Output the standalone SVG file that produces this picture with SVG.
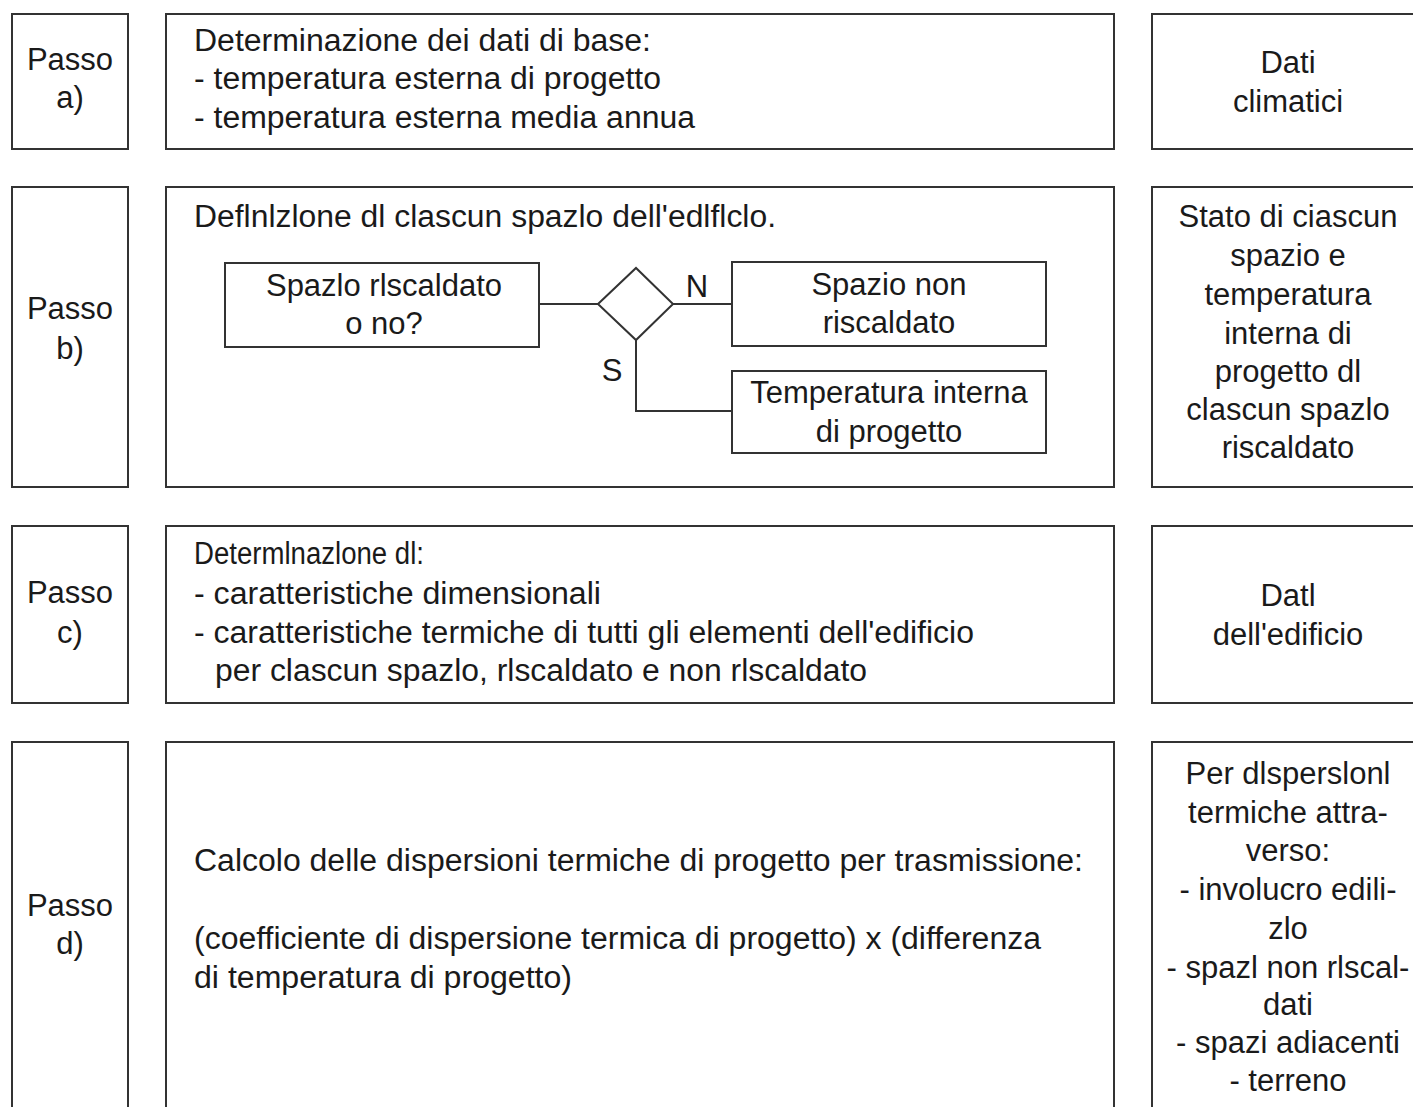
<svg xmlns="http://www.w3.org/2000/svg" width="1413" height="1107" viewBox="0 0 1413 1107">
<style>
rect.b{fill:#fff;stroke:#333;stroke-width:2}
text{font-family:"Liberation Sans",Arial,sans-serif;font-size:31px;fill:#1a1a1a}
.c{text-anchor:middle}
.ln{fill:none;stroke:#333;stroke-width:2}
</style>
<rect width="1413" height="1107" fill="#fff"/>
<g id="passo-a"><rect class="b" x="12" y="14" width="116" height="135"/><text class="c" x="70" y="70">Passo</text><text class="c" x="70" y="108">a)</text></g>
<g id="step-a"><rect class="b" x="166" y="14" width="948" height="135"/>
<text x="194" y="51" textLength="457" lengthAdjust="spacingAndGlyphs">Determinazione dei dati di base:</text>
<text x="194" y="89" textLength="467" lengthAdjust="spacingAndGlyphs">- temperatura esterna di progetto</text>
<text x="194" y="128" textLength="501" lengthAdjust="spacingAndGlyphs">- temperatura esterna media annua</text></g>
<g id="out-a"><rect class="b" x="1152" y="14" width="280" height="135"/><text class="c" x="1288" y="73">Dati</text><text class="c" x="1288" y="112">climatici</text></g>

<g id="passo-b"><rect class="b" x="12" y="187" width="116" height="300"/><text class="c" x="70" y="319">Passo</text><text class="c" x="70" y="359">b)</text></g>
<g id="step-b"><rect class="b" x="166" y="187" width="948" height="300"/>
<text x="194" y="227" textLength="582" lengthAdjust="spacingAndGlyphs">Deflnlzlone dl clascun spazlo dell'edlflclo.</text></g>
<g id="out-b"><rect class="b" x="1152" y="187" width="280" height="300"/>
<text class="c" x="1288" y="227">Stato di ciascun</text>
<text class="c" x="1288" y="266">spazio e</text>
<text class="c" x="1288" y="305">temperatura</text>
<text class="c" x="1288" y="344">interna di</text>
<text class="c" x="1288" y="382">progetto dl</text>
<text class="c" x="1288" y="420">clascun spazlo</text>
<text class="c" x="1288" y="458">riscaldato</text></g>

<g id="connectors">
<polyline class="ln" points="539,304 598,304"/>
<polyline class="ln" points="673,304 732,304"/>
<polyline class="ln" points="636,340 636,411 732,411"/>
</g>
<g id="q-riscaldato"><rect class="b" x="225" y="263" width="314" height="84"/><text class="c" x="384" y="296">Spazlo rlscaldato</text><text class="c" x="384" y="334">o no?</text></g>
<g id="decision"><polygon class="ln" points="598,304 636,268 673,304 636,340" style="fill:#fff"/></g>
<text x="697" y="297" class="c" id="lbl-n">N</text>
<text x="612" y="381" class="c" id="lbl-s">S</text>
<g id="non-riscaldato"><rect class="b" x="732" y="262" width="314" height="84"/><text class="c" x="889" y="295">Spazio non</text><text class="c" x="889" y="333">riscaldato</text></g>
<g id="temp-interna"><rect class="b" x="732" y="371" width="314" height="82"/><text class="c" x="889" y="403">Temperatura interna</text><text class="c" x="889" y="442">di progetto</text></g>

<g id="passo-c"><rect class="b" x="12" y="526" width="116" height="177"/><text class="c" x="70" y="603">Passo</text><text class="c" x="70" y="643">c)</text></g>
<g id="step-c"><rect class="b" x="166" y="526" width="948" height="177"/>
<text x="194" y="564" textLength="230" lengthAdjust="spacingAndGlyphs">Determlnazlone dl:</text>
<text x="194" y="604" textLength="407" lengthAdjust="spacingAndGlyphs">- caratteristiche dimensionali</text>
<text x="194" y="643" textLength="780" lengthAdjust="spacingAndGlyphs">- caratteristiche termiche di tutti gli elementi dell'edificio</text>
<text x="215" y="681" textLength="652" lengthAdjust="spacingAndGlyphs">per clascun spazlo, rlscaldato e non rlscaldato</text></g>
<g id="out-c"><rect class="b" x="1152" y="526" width="280" height="177"/><text class="c" x="1288" y="606">Datl</text><text class="c" x="1288" y="645">dell'edificio</text></g>

<g id="passo-d"><rect class="b" x="12" y="742" width="116" height="380"/><text class="c" x="70" y="916">Passo</text><text class="c" x="70" y="954">d)</text></g>
<g id="step-d"><rect class="b" x="166" y="742" width="948" height="380"/>
<text x="194" y="871" textLength="889" lengthAdjust="spacingAndGlyphs">Calcolo delle dispersioni termiche di progetto per trasmissione:</text>
<text x="194" y="949" textLength="847" lengthAdjust="spacingAndGlyphs">(coefficiente di dispersione termica di progetto) x (differenza</text>
<text x="194" y="988" textLength="378" lengthAdjust="spacingAndGlyphs">di temperatura di progetto)</text></g>
<g id="out-d"><rect class="b" x="1152" y="742" width="280" height="380"/>
<text class="c" x="1288" y="784">Per dlsperslonl</text>
<text class="c" x="1288" y="823">termiche attra-</text>
<text class="c" x="1288" y="861">verso:</text>
<text class="c" x="1288" y="900">- involucro edili-</text>
<text class="c" x="1288" y="939">zlo</text>
<text class="c" x="1288" y="978">- spazl non rlscal-</text>
<text class="c" x="1288" y="1015">dati</text>
<text class="c" x="1288" y="1053">- spazi adiacenti</text>
<text class="c" x="1288" y="1091">- terreno</text></g>
</svg>
